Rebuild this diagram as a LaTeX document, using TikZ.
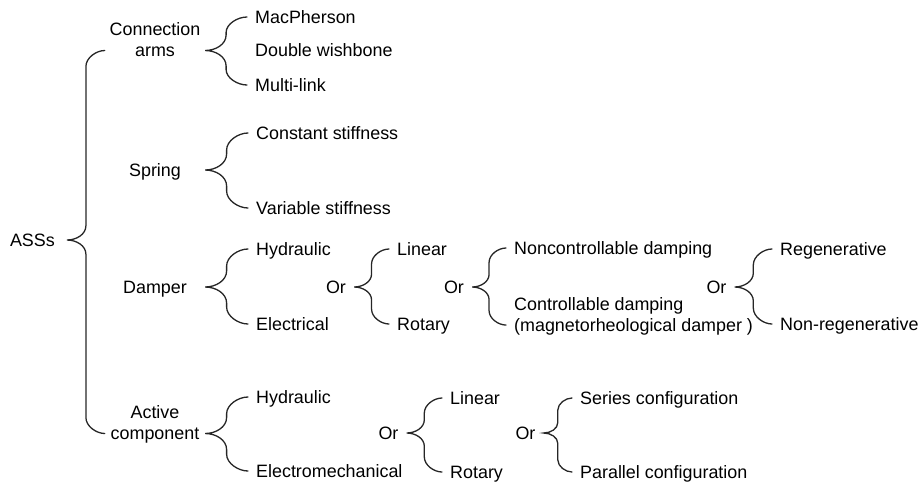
\documentclass[tikz,border=0pt]{standalone}
\usepackage{fontspec}
\setmainfont{Liberation Sans}
\usepackage{tikz}
\usetikzlibrary{calc}

\newcommand{\fs}{\fontsize{17.9}{21}\selectfont}
% #1 tip, #2 upper end, #3 lower end
\newcommand{\brc}[3]{%
  \draw[brcline] let \p1=#1, \p2=#2, \p3=#3,
      \n1={(\x2-\x1)/2}, \n2={min(0.85*\n1,(\y2-\y3)/4.4)}, \n3={min(0.75*\n1,(\y2-\y3)/4.4)} in
    (\p2) .. controls (\x1+\n1+0.55*\n1,\y2) and (\x1+\n1,\y2-0.45*\n2) .. (\x1+\n1,\y2-\n2)
    -- (\x1+\n1,\y1+\n3) .. controls (\x1+\n1,\y1+0.4*\n3) and (\x1+0.5*\n1,\y1) .. (\p1)
    .. controls (\x1+0.5*\n1,\y1) and (\x1+\n1,\y1-0.4*\n3) .. (\x1+\n1,\y1-\n3)
    -- (\x1+\n1,\y3+\n2) .. controls (\x1+\n1,\y3+0.45*\n2) and (\x1+\n1+0.55*\n1,\y3) .. (\p3);}

\begin{document}
\begin{tikzpicture}[
  x=1pt, y=-1pt,
  txt/.style={inner ysep=0pt, inner xsep=8pt, text height=12.9pt, text depth=0pt, font=\fs},
  group/.style={txt, align=center, minimum width=100pt, inner xsep=0pt},
  item/.style={txt, anchor=west},
  orword/.style={txt},
  brcline/.style={line width=1.3pt, line cap=round, black!85}
]
\useasboundingbox (0,0) rectangle (920,483);

\node[txt, anchor=east, inner xsep=12pt] (asss) at (67,240) {ASSs};

\node[group] (conn) at (155,50.5) {Connection\\arms};
\node[group] (spring) at (155,170) {Spring};
\node[group] (damper) at (155,287) {Damper};
\node[group] (active) at (155,433.5) {Active\\component};

\node[item] (mac) at (247,17) {MacPherson};
\node[item] (dwish) at (247,50) {Double wishbone};
\node[item] (mlink) at (247,85) {Multi-link};

\node[item] (const) at (248,133) {Constant stiffness};
\node[item] (var) at (248,208) {Variable stiffness};

\node[item] (dhyd) at (248,249) {Hydraulic};
\node[item] (delec) at (248,324) {Electrical};
\node[orword] (dor1) at (336,287) {Or};
\node[item] (dlin) at (389,249) {Linear};
\node[item] (drot) at (389,324) {Rotary};
\node[orword] (dor2) at (454,287) {Or};
\node[item] (nonc) at (506,248) {Noncontrollable damping};
\node[txt, anchor=north west, align=left] (contr) at (506,318.6) {Controllable damping\\(magnetorheological damper )};
\node[orword] (dor3) at (716.5,287) {Or};
\node[item] (regen) at (772,249) {Regenerative};
\node[item] (nonreg) at (772,324) {Non-regenerative};

\node[item] (ahyd) at (248,397) {Hydraulic};
\node[item] (aelec) at (248,471) {Electromechanical};
\node[orword] (aor1) at (388.5,433) {Or};
\node[item] (alin) at (442,398) {Linear};
\node[item] (arot) at (442,472) {Rotary};
\node[orword] (aor2) at (525.5,433) {Or};
\node[item] (series) at (572,398) {Series configuration};
\node[item] (parallel) at (572,472) {Parallel configuration};

\brc{(asss.east)}{(conn.west)}{(active.west)}
\brc{(conn.east)}{(mac.west)}{(mlink.west)}
\brc{(spring.east)}{(const.west)}{(var.west)}
\brc{(damper.east)}{(dhyd.west)}{(delec.west)}
\brc{(dor1.east)}{(dlin.west)}{(drot.west)}
\brc{(dor2.east)}{(nonc.west)}{([yshift=-6.45pt]contr.north west)}
\brc{(dor3.east)}{(regen.west)}{(nonreg.west)}
\brc{(active.east)}{(ahyd.west)}{(aelec.west)}
\brc{(aor1.east)}{(alin.west)}{(arot.west)}
\brc{(aor2.east)}{(series.west)}{(parallel.west)}
\end{tikzpicture}
\end{document}
